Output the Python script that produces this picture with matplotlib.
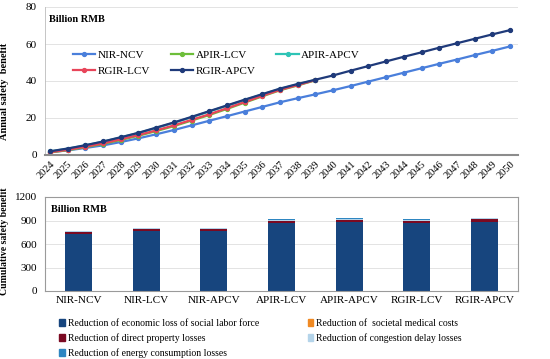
import numpy as np
import matplotlib.pyplot as plt
from matplotlib.patches import Patch

plt.rcParams["font.family"] = ["Liberation Serif", "DejaVu Serif"]

years = list(range(2024, 2051))
nir_ncv = [1.5, 2.5, 3.8, 5.2, 7.0, 9.0, 11.2, 13.5, 16.0, 18.5, 21.0, 23.5, 26.0, 28.5,
           30.7, 32.8, 35.0, 37.3, 39.7, 42.1, 44.5, 46.9, 49.3, 51.6, 54.0, 56.3, 58.7]
rgir_apcv = [2.0, 3.5, 5.3, 7.3, 9.6, 12.0, 14.8, 17.6, 20.6, 23.7, 26.8, 29.9, 32.9, 35.9,
             38.4, 40.7, 43.0, 45.6, 48.1, 50.6, 53.1, 55.5, 58.0, 60.4, 62.8, 65.2, 67.5]
# these three scenarios stop at 2039
apir_lcv = [1.4, 2.6, 4.2, 6.0, 8.1, 10.4, 12.9, 15.6, 18.6, 21.6, 24.9, 28.3, 31.7, 35.0, 37.6, 40.4]
apir_apcv = [1.9, 3.4, 5.2, 7.2, 9.5, 11.9, 14.6, 17.4, 20.4, 23.5, 26.6, 29.7, 32.7, 35.7, 38.2, 40.6]
rgir_lcv = [1.5, 2.8, 4.5, 6.3, 8.5, 10.8, 13.3, 16.0, 19.0, 22.0, 25.3, 28.6, 32.0, 35.2, 37.8, 40.5]

scenarios = ["NIR-NCV", "NIR-LCV", "NIR-APCV", "APIR-LCV", "APIR-APCV", "RGIR-LCV", "RGIR-APCV"]
labor = [728, 765, 765, 865, 875, 865, 880]
medical = [3, 3, 3, 4, 4, 4, 4]
property_loss = [25, 22, 22, 30, 32, 30, 32]
congestion = [10, 10, 10, 13, 14, 12, 14]
energy = [2, 2, 2, 2, 2, 2, 2]

fig = plt.figure(figsize=(5.5, 3.59), dpi=100)

# ── Annual benefit lines ─────────────────────────────────────────────────────
ax1 = fig.add_axes([45 / 550, 1 - 155 / 359, 473 / 550, 148 / 359])
lines = [
    ("NIR-NCV", years, nir_ncv, "#4A7FDB"),
    ("APIR-LCV", years[:16], apir_lcv, "#6DBE3A"),
    ("APIR-APCV", years[:16], apir_apcv, "#2EC4B6"),
    ("RGIR-LCV", years[:16], rgir_lcv, "#E8455A"),
    ("RGIR-APCV", years, rgir_apcv, "#1F3A7A"),
]
h = {}
for name, x, y, c in lines:
    h[name], = ax1.plot(x, y, color=c, lw=1.6, marker="o", ms=2.8, label=name)

ax1.set_xlim(2023.72, 2050.45)
ax1.set_ylim(0, 80)
ax1.set_yticks([0, 20, 40, 60, 80])
ax1.set_xticks(years)
ax1.set_xticklabels([str(y) for y in years], rotation=45, ha="right",
                    rotation_mode="anchor", fontsize=7.5)
ax1.tick_params(axis="y", labelsize=8, length=0, pad=6)
ax1.tick_params(axis="x", length=0, pad=3)
ax1.grid(axis="y", color="#e3e3e3", lw=0.7)
ax1.set_axisbelow(True)
for s in ["top", "right"]:
    ax1.spines[s].set_visible(False)
ax1.spines["left"].set_color("#bcbcbc")
ax1.spines["left"].set_linewidth(0.6)
ax1.spines["bottom"].set_color("#8c8c8c")
ax1.spines["bottom"].set_linewidth(1.5)
ax1.set_ylabel("Annual safety  benefit", fontsize=7.5, fontweight="bold")
ax1.yaxis.set_label_coords(-36 / 473, 0.43)
ax1.text(0.008, 0.945, "Billion RMB", transform=ax1.transAxes, fontsize=7.5,
         fontweight="bold", va="top", ha="left")
# row-major order on screen
order = ["NIR-NCV", "RGIR-LCV", "APIR-LCV", "RGIR-APCV", "APIR-APCV"]
ax1.legend([h[n] for n in order], order, loc="upper left", bbox_to_anchor=(0.05, 0.74),
           ncol=3, frameon=False, fontsize=8, columnspacing=1.9, handlelength=2.0,
           handletextpad=0.2, labelspacing=0.55, borderaxespad=0)

# ── Cumulative stacked bars ──────────────────────────────────────────────────
ax2 = fig.add_axes([45 / 550, 1 - 291 / 359, 473 / 550, 94 / 359])
xpos = np.arange(len(scenarios))
parts = [
    ("Reduction of economic loss of social labor force", labor, "#17457E"),
    ("Reduction of  societal medical costs", medical, "#F08A24"),
    ("Reduction of direct property losses", property_loss, "#7B0A22"),
    ("Reduction of congestion delay losses", congestion, "#B4D4EA"),
    ("Reduction of energy consumption losses", energy, "#2E86C1"),
]
bottom = np.zeros(len(scenarios))
for name, vals, c in parts:
    ax2.bar(xpos, vals, 0.4, bottom=bottom, color=c, label=name, zorder=2)
    bottom += np.array(vals)

ax2.set_xlim(-0.5, len(scenarios) - 0.5)
ax2.set_ylim(0, 1200)
ax2.set_yticks([0, 300, 600, 900, 1200])
ax2.set_xticks(xpos)
ax2.set_xticklabels(scenarios, fontsize=8)
ax2.tick_params(axis="both", length=0, labelsize=8)
ax2.tick_params(axis="y", pad=6)
ax2.grid(axis="y", color="#e3e3e3", lw=0.7, zorder=0)
for s in ax2.spines.values():
    s.set_color("#9a9a9a")
    s.set_linewidth(0.8)
ax2.set_ylabel("Cumulative safety benefit", fontsize=7, fontweight="bold")
ax2.yaxis.set_label_coords(-36 / 473, 0.53)
ax2.text(0.013, 0.92, "Billion RMB", transform=ax2.transAxes, fontsize=7.5,
         fontweight="bold", va="top", ha="left")

patches = [Patch(color=c, label=n) for n, v, c in parts]
leg_order = [0, 2, 4, 1, 3]
fig.legend(handles=[patches[i] for i in leg_order], loc="upper left",
           bbox_to_anchor=(55 / 550, 1 - 315 / 359), ncol=2, frameon=False, fontsize=7,
           columnspacing=5.0, handlelength=0.6, handleheight=0.6, handletextpad=0.3,
           labelspacing=0.55, borderaxespad=0)

fig.savefig("out.png", dpi=100)
